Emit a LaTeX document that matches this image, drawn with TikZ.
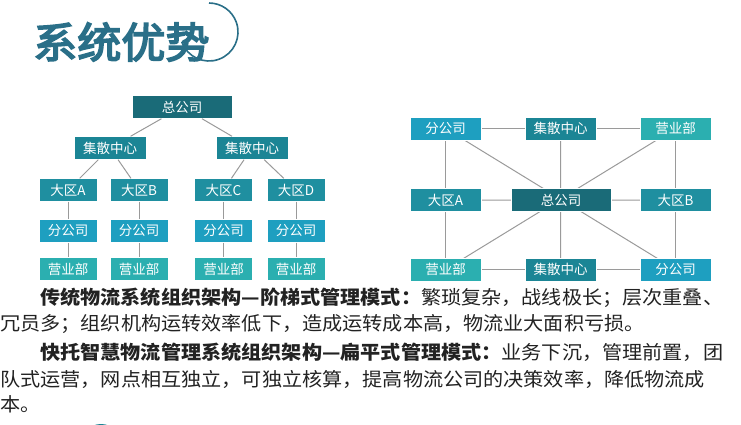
\documentclass[tikz,border=0pt]{standalone}
\usepackage{fontspec}
\setmainfont{Noto Sans CJK SC}
\newfontfamily\titlefont[FakeBold=4,FakeStretch=1.05]{Noto Sans CJK SC}
\newfontfamily\parafont[FakeStretch=1.06]{Noto Sans CJK SC}
\definecolor{c0}{HTML}{1A6B78}
\definecolor{c1}{HTML}{1B8595}
\definecolor{c2}{HTML}{1F8FA0}
\definecolor{c3}{HTML}{1E9FC0}
\definecolor{c4}{HTML}{2BAFB0}
\definecolor{ttl}{HTML}{2A6F88}
\definecolor{ln}{HTML}{9A9A9A}
\definecolor{txt}{HTML}{222222}
\tikzset{
 bx/.style={fill=#1,draw=white,line width=0.4pt,text=white,minimum height=23pt,inner sep=0pt,font=\fontsize{13.5}{13.5}\selectfont},
 con/.style={draw=ln,line width=1pt},
 para/.style={anchor=west,inner sep=0pt,text=txt,font=\parafont\fontsize{19}{19}\selectfont}
}
\begin{document}
\begin{tikzpicture}[x=1pt,y=-1pt]
\useasboundingbox (0,0) rectangle (741,424);
\begin{scope}
\clip (0,0) rectangle (741,424);
\fill[c1] (101,445) circle (21);
\end{scope}
% title
\node[anchor=west,inner sep=0pt,text=ttl,font=\titlefont\fontsize{42}{42}\selectfont] (title) at (33,42) {系统优势};
\draw[ttl,line width=1.6pt] (209,32) ++(160:29) arc (160:-90:29);
% left tree
\node[bx=c0,minimum width=100pt] (h) at (182,107) {总公司};
\node[bx=c1,minimum width=72pt] (j1) at (110,148) {集散中心};
\node[bx=c1,minimum width=72pt] (j2) at (252,148) {集散中心};
\foreach \n/\x/\l in {a/68/A,b/139/B,c/223.5/C,d/296/D}{
 \node[bx=c2,minimum width=58pt] (d\n) at (\x,190) {大区\l};
 \node[bx=c3,minimum width=58pt] (f\n) at (\x,231) {分公司};
 \node[bx=c4,minimum width=58pt] (y\n) at (\x,269) {营业部};
 \draw[con] (d\n) -- (f\n) (f\n) -- (y\n);
}
\draw[con] (h) -- (j1) (h) -- (j2) (j1) -- (da) (j1) -- (db) (j2) -- (dc) (j2) -- (dd);
% right network
\coordinate (TL) at (445.5,128.5);
\coordinate (TM) at (560.5,128.5);
\coordinate (TR) at (675.5,128.5);
\coordinate (ML) at (445.5,200);
\coordinate (MR) at (675.5,200);
\coordinate (BL) at (445.5,269.5);
\coordinate (BM) at (560.5,269.5);
\coordinate (BR) at (675.5,269.5);
\draw[con] (TL) -- (TR) -- (BR) -- (BL) -- cycle;
\draw[con] (ML) -- (MR) (TM) -- (BM) (TL) -- (BR) (TR) -- (BL);
\node[bx=c3,minimum width=71pt] (rf1) at (TL) {分公司};
\node[bx=c1,minimum width=71pt] (rj1) at (TM) {集散中心};
\node[bx=c4,minimum width=71pt] (ry1) at (TR) {营业部};
\node[bx=c2,minimum width=71pt] (rda) at (ML) {大区A};
\node[bx=c0,minimum width=100pt] (rh) at (561,200) {总公司};
\node[bx=c2,minimum width=71pt] (rdb) at (MR) {大区B};
\node[bx=c4,minimum width=71pt] (ry2) at (BL) {营业部};
\node[bx=c1,minimum width=71pt] (rj2) at (BM) {集散中心};
\node[bx=c3,minimum width=71pt] (rf2) at (BR) {分公司};
% text
\node[para] (p1) at (40,298) {\textbf{传统物流系统组织架构—阶梯式管理模式：}繁琐复杂，战线极长；层次重叠、};
\node[para] (p2) at (0,324) {冗员多；组织机构运转效率低下，造成运转成本高，物流业大面积亏损。};
\node[para] (p3) at (40,352) {\textbf{快托智慧物流管理系统组织架构—扁平式管理模式：}业务下沉，管理前置，团};
\node[para] (p4) at (0,379) {队式运营，网点相互独立，可独立核算，提高物流公司的决策效率，降低物流成};
\node[para] (p5) at (0,404) {本。};
\end{tikzpicture}
\end{document}
